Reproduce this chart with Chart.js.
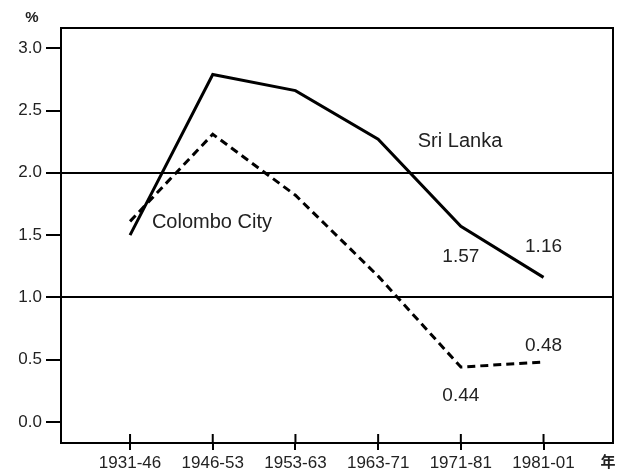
<!DOCTYPE html>
<html>
<head>
<meta charset="utf-8">
<script src="https://cdn.jsdelivr.net/npm/chart.js"></script>
<style>
  html, body { margin: 0; padding: 0; background: #fff; }
</style>
</head>
<body>
<canvas id="grafico" width="623" height="472"></canvas>
<script>
// datos
const periodos = ["1931-46", "1946-53", "1953-63", "1963-71", "1971-81", "1981-01"];
const sriLanka = [1.50, 2.79, 2.66, 2.27, 1.57, 1.16];
const colombo = [1.61, 2.31, 1.82, 1.17, 0.44, 0.48];
const yTicks = [0, 0.5, 1.0, 1.5, 2.0, 2.5, 3.0];
const lineasRef = [1.0, 2.0];

const fuente = "'Liberation Sans', Arial, sans-serif";
const colorTexto = "#222";

// textos sobre el grafico (marco, etiquetas, unidades)
const textosPlugin = {
  id: "textos",
  afterDraw(chart) {
    const { ctx, chartArea, scales } = chart;
    const x = scales.x, y = scales.y;
    ctx.save();

    // marco completo
    ctx.strokeStyle = "#000";
    ctx.lineWidth = 2;
    ctx.strokeRect(chartArea.left, chartArea.top, chartArea.right - chartArea.left, chartArea.bottom - chartArea.top);

    // marcas del eje x hacia dentro
    periodos.forEach((p, i) => {
      const px = x.getPixelForValue(i);
      ctx.beginPath();
      ctx.moveTo(px, chartArea.bottom);
      ctx.lineTo(px, chartArea.bottom - 9);
      ctx.stroke();
    });

    ctx.fillStyle = colorTexto;
    ctx.textAlign = "center";
    ctx.textBaseline = "middle";
    ctx.font = "20px " + fuente;
    ctx.fillText("Sri Lanka", x.getPixelForValue(3.99), y.getPixelForValue(2.25));
    ctx.fillText("Colombo City", x.getPixelForValue(0.99), y.getPixelForValue(1.60));

    // valores finales
    const n = periodos.length;
    ctx.font = "19px " + fuente;
    ctx.fillText(sriLanka[n - 2].toFixed(2), x.getPixelForValue(n - 2), y.getPixelForValue(sriLanka[n - 2]) + 30);
    ctx.fillText(sriLanka[n - 1].toFixed(2), x.getPixelForValue(n - 1), y.getPixelForValue(sriLanka[n - 1]) - 31);
    ctx.fillText(colombo[n - 2].toFixed(2), x.getPixelForValue(n - 2), y.getPixelForValue(colombo[n - 2]) + 29);
    ctx.fillText(colombo[n - 1].toFixed(2), x.getPixelForValue(n - 1), y.getPixelForValue(colombo[n - 1]) - 16);

    // unidades
    ctx.font = "bold 15px " + fuente;
    ctx.fillText("%", 32, 18);
    ctx.font = "bold 15px 'Noto Sans CJK SC', sans-serif";
    ctx.fillText("年", 608, 461);
    ctx.restore();
  }
};

new Chart("grafico", {
  type: "line",
  data: {
    datasets: [
      {
        label: "Sri Lanka",
        data: sriLanka.map((v, i) => ({ x: i, y: v })),
        borderColor: "#000",
        borderWidth: 3,
        pointRadius: 0,
        tension: 0,
      },
      {
        label: "Colombo City",
        data: colombo.map((v, i) => ({ x: i, y: v })),
        borderColor: "#000",
        borderWidth: 3,
        borderDash: [8, 5],
        pointRadius: 0,
        tension: 0,
      },
    ],
  },
  options: {
    responsive: false,
    animation: false,
    layout: { padding: { top: 28, right: 10, bottom: 0, left: 0 } },
    plugins: {
      legend: { display: false },
      tooltip: { enabled: false },
    },
    scales: {
      x: {
        type: "linear",
        min: -0.835,
        max: 5.84,
        afterBuildTicks: (s) => { s.ticks = periodos.map((p, i) => ({ value: i })); },
        afterFit: (s) => { s.height = 29; },
        ticks: {
          callback: (v) => periodos[v],
          color: colorTexto,
          font: { family: fuente, size: 17 },
          padding: 3,
          maxRotation: 0,
          autoSkip: false,
        },
        grid: { drawOnChartArea: false, color: "#000", lineWidth: 2, tickLength: 7 },
        border: { color: "#000", width: 2 },
      },
      y: {
        min: -0.17,
        max: 3.163,
        afterBuildTicks: (s) => { s.ticks = yTicks.map((v) => ({ value: v })); },
        afterFit: (s) => { s.width = 61; },
        ticks: {
          callback: (v) => v.toFixed(1),
          color: colorTexto,
          font: { family: fuente, size: 17 },
          padding: 4,
        },
        grid: {
          color: (c) => (c.tick && lineasRef.includes(c.tick.value) ? "#000" : "rgba(0,0,0,0)"),
          tickColor: "#000",
          lineWidth: 2,
          tickLength: 15,
        },
        border: { color: "#000", width: 2 },
      },
    },
  },
  plugins: [textosPlugin],
});
</script>
</body>
</html>
